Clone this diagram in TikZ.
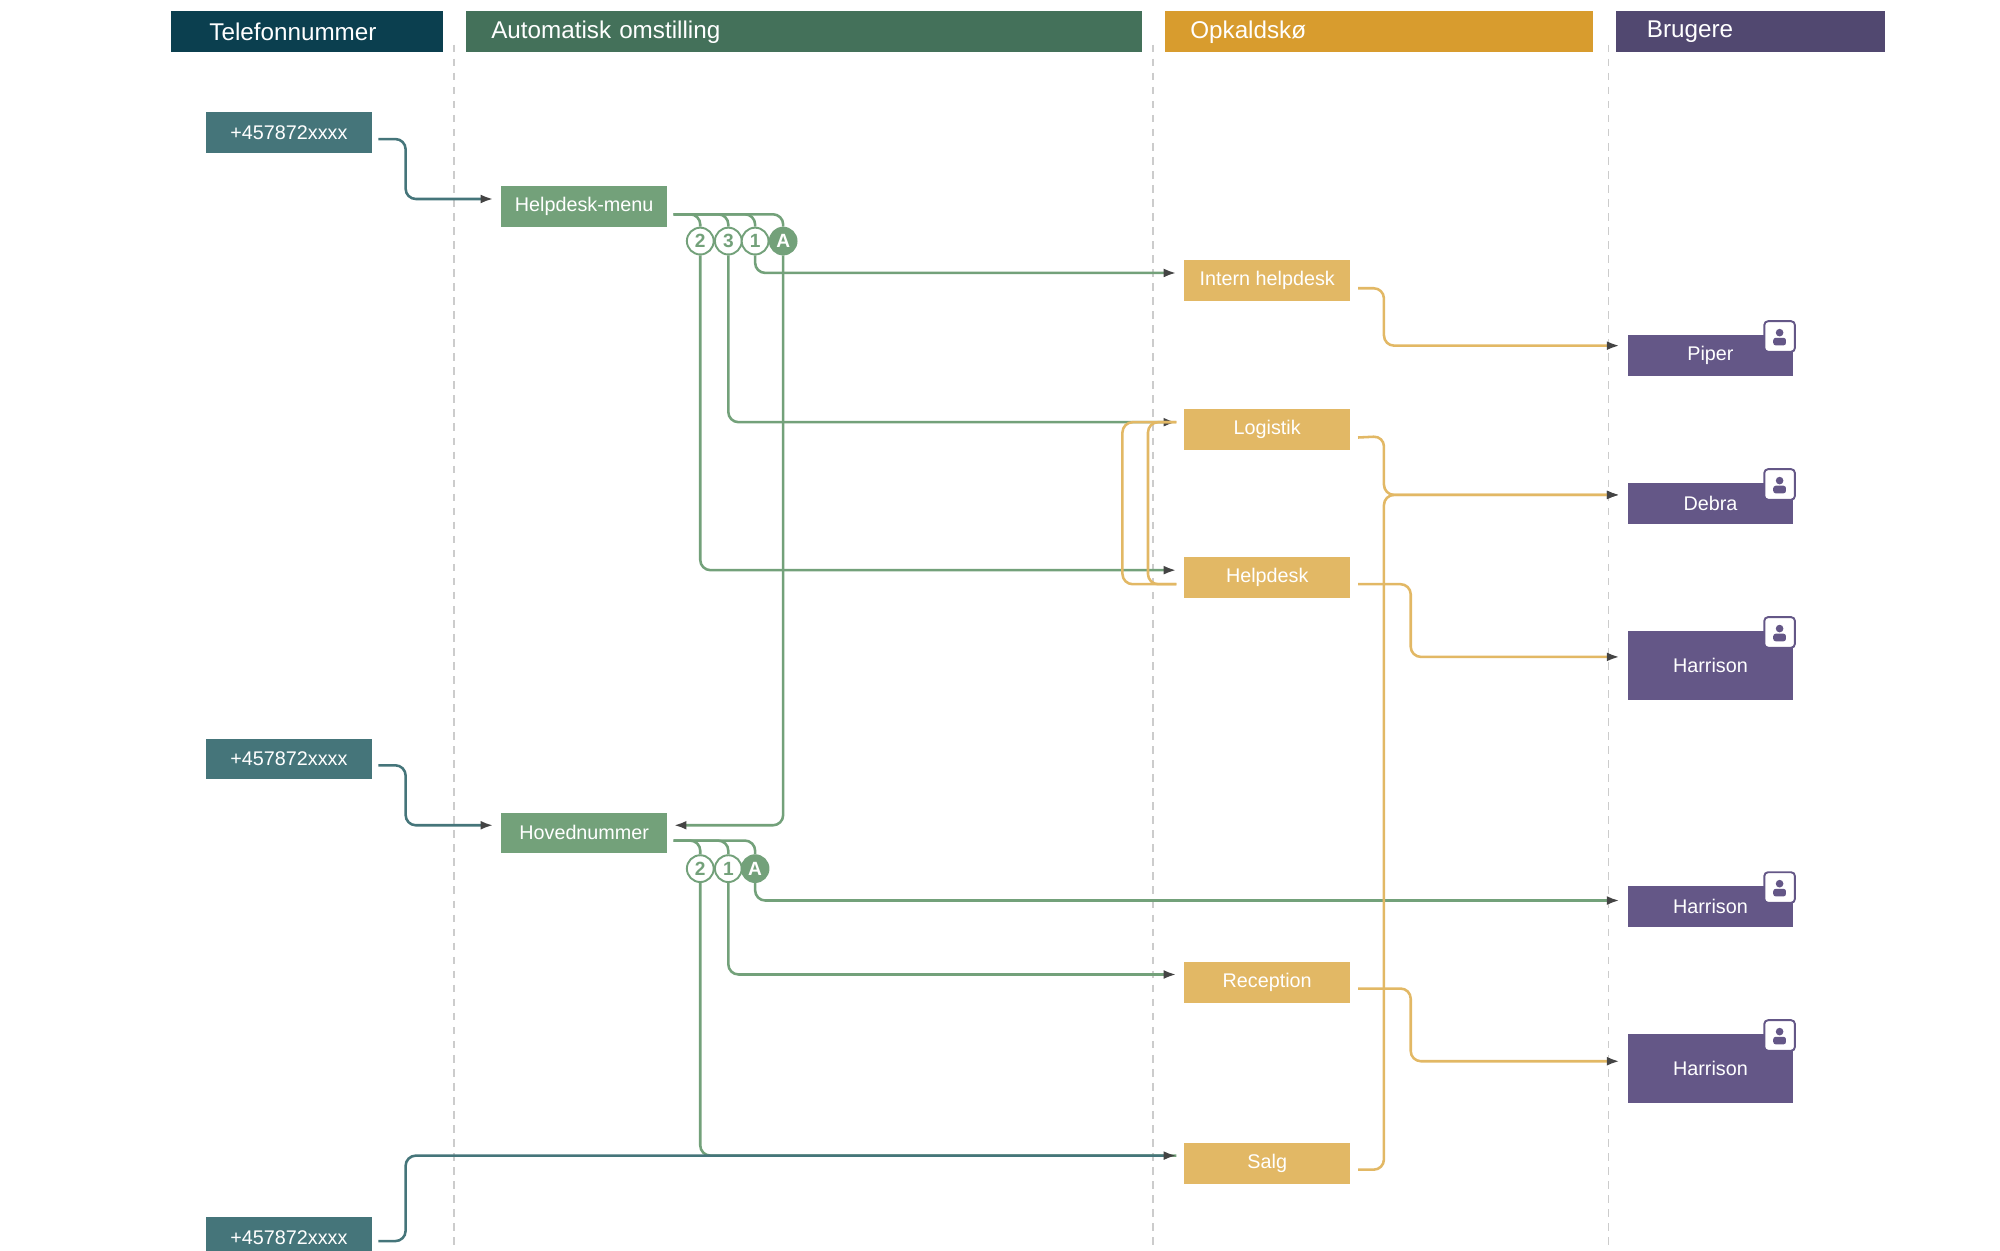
\documentclass[tikz,border=0pt]{standalone}
\usepackage{fontspec}
\setmainfont{Liberation Sans}
\usetikzlibrary{positioning,arrows.meta}
\definecolor{telC}{HTML}{0B3F4F}
\definecolor{autoC}{HTML}{44715A}
\definecolor{queueC}{HTML}{D89C2E}
\definecolor{userC}{HTML}{514870}
\definecolor{phoneC}{HTML}{45757A}
\definecolor{menuC}{HTML}{73A17A}
\definecolor{groupC}{HTML}{E2B865}
\definecolor{personC}{HTML}{645787}
\definecolor{tipC}{HTML}{444444}
\tikzset{>={Latex[length=10pt,width=7pt]}}
\tikzset{
  head/.style={fill=#1,text=white,anchor=west,minimum height=32pt,inner ysep=0pt,inner xsep=0pt,font=\fontsize{19}{19}\selectfont},
  box/.style={fill=#1,text=white,minimum width=130pt,minimum height=32pt,inner sep=0pt,font=\fontsize{15.5}{15.5}\selectfont},
  lane/.style={gray!40,dashed,line width=1pt,dash pattern=on 6pt off 5pt},
  link/.style={line width=2pt,rounded corners=8pt,#1},
  arr/.style={link=#1,-{Latex[length=10pt,width=7pt,fill=tipC,color=tipC]}},
  key/.style={circle,draw=menuC,fill=white,line width=1.5pt,minimum size=21pt,inner sep=0pt,text=menuC,font=\bfseries\fontsize{15}{15}\selectfont},
  keyA/.style={key,fill=menuC,text=white},
  badge/.style={draw=personC,fill=white,rounded corners=3pt,line width=1.5pt,minimum size=24pt,inner sep=0pt}
}
\newcommand\userbadge[1]{%
  \node[badge] (b#1) at ([xshift=-11pt,yshift=-1pt]#1.north east) {};
  \fill[personC] ([yshift=3pt]b#1.center) circle (3pt);
  \fill[personC,rounded corners=2pt] ([shift={(-5pt,-7pt)}]b#1.center) rectangle ([shift={(5pt,-1pt)}]b#1.center);
}
\begin{document}
\begin{tikzpicture}[x=1pt,y=-1pt]
\useasboundingbox (0,0) rectangle (1568,980);
% lanes
\node[head=telC,minimum width=213pt,text width=173pt,align=left,inner xsep=20pt] (hTel) at (134,25) {\hspace*{10pt}Telefonnummer};
\node[head=autoC,minimum width=530pt,text width=490pt,align=left,inner xsep=20pt] (hAuto) at (365,25) {Automatisk omstilling};
\node[head=queueC,minimum width=336pt,text width=296pt,align=left,inner xsep=20pt] (hQueue) at (913,25) {Opkaldskø};
\node[head=userC,minimum width=211pt,text width=171pt,align=left,inner xsep=20pt] (hUser) at (1267,25) {\hspace*{4pt}Brugere};
\foreach \x in {356,904,1261}
  \draw[lane] (\x,35) -- (\x,980);

% numbers
\node[box=phoneC] (p1) at (226.5,104) {+457872xxxx};
\node[box=phoneC] (p2) at (226.5,595) {+457872xxxx};
\node[box=phoneC] (p3) at (226.5,970) {+457872xxxx};

% menus
\node[box=menuC] (menu) at (458,162) {Helpdesk-menu};
\node[box=menuC] (main) at (458,653) {Hovednummer};
\node[key] (m2) at (549,189) {2};
\node[key] (m3) at (571,189) {3};
\node[key] (m1) at (592,189) {1};
\node[keyA] (mA) at (614,189) {A};
\node[key] (h2) at (549,681) {2};
\node[key] (h1) at (571,681) {1};
\node[keyA] (hA) at (592,681) {A};

% queues
\node[box=groupC] (intern) at (993.5,220) {Intern helpdesk};
\node[box=groupC] (logi) at (993.5,337) {Logistik};
\node[box=groupC] (help) at (993.5,453) {Helpdesk};
\node[box=groupC] (recep) at (993.5,770) {Reception};
\node[box=groupC] (salg) at (993.5,912) {Salg};

% users
\node[box=personC] (piper) at (1341,279) {Piper};
\node[box=personC] (debra) at (1341,395) {Debra};
\node[box=personC,minimum height=54pt] (harA) at (1341,522) {Harrison};
\node[box=personC] (harB) at (1341,711) {Harrison};
\node[box=personC,minimum height=54pt] (harC) at (1341,838) {Harrison};
\foreach \u in {piper,debra,harA,harB,harC}{\userbadge{\u}}

% menu keys
\foreach \k in {m2,m3,m1,mA}
  \draw[link=menuC] ([shift={(5,6)}]menu.east) -| (\k.north);
\foreach \k in {h2,h1,hA}
  \draw[link=menuC] ([shift={(5,6)}]main.east) -| (\k.north);
\draw[arr=menuC] (m1.south) |- ([shift={(-6,-6)}]intern.west);
\draw[arr=menuC] (m3.south) |- ([shift={(-6,-6)}]logi.west);
\draw[arr=menuC] (m2.south) |- ([shift={(-6,-6)}]help.west);
\draw[arr=menuC] (mA.south) |- ([shift={(5,-6)}]main.east);
\draw[arr=menuC] (hA.south) |- ([shift={(-6,-5)}]harB.west);
\draw[arr=menuC] (h1.south) |- ([shift={(-6,-6)}]recep.west);
\draw[link=menuC] (h2.south) |- ([shift={(-6,-6)}]salg.west);

% numbers to menus
\draw[arr=phoneC] ([shift={(5,5)}]p1.east) -- (318,109) |- ([shift={(-6,-6)}]menu.west);
\draw[arr=phoneC] ([shift={(5,5)}]p2.east) -- (318,600) |- ([shift={(-6,-6)}]main.west);
\draw[arr=phoneC] ([shift={(5,3)}]p3.east) -- (318,973) |- ([shift={(-6,-6)}]salg.west);

% overflow
\draw[link=groupC] ([shift={(-6,5)}]help.west) -- (880,458) |- ([shift={(-6,-6)}]logi.west);
\draw[link=groupC] ([shift={(-6,5)}]help.west) -- (900,458) |- ([shift={(-6,-6)}]logi.west);

% queues to users
\draw[arr=groupC] ([shift={(6,6)}]intern.east) -- (1085,226) |- ([shift={(-6,-8)}]piper.west);
\draw[arr=groupC] ([shift={(6,6)}]logi.east) -- (1085,342) |- ([shift={(-6,-7)}]debra.west);
\draw[arr=groupC] ([shift={(6,5)}]salg.east) -- (1085,917) |- ([shift={(-6,-7)}]debra.west);
\draw[arr=groupC] ([shift={(6,5)}]help.east) -- (1106,458) |- ([shift={(-6,-7)}]harA.west);
\draw[arr=groupC] ([shift={(6,5)}]recep.east) -- (1106,775) |- ([shift={(-6,-6)}]harC.west);
\end{tikzpicture}
\end{document}
